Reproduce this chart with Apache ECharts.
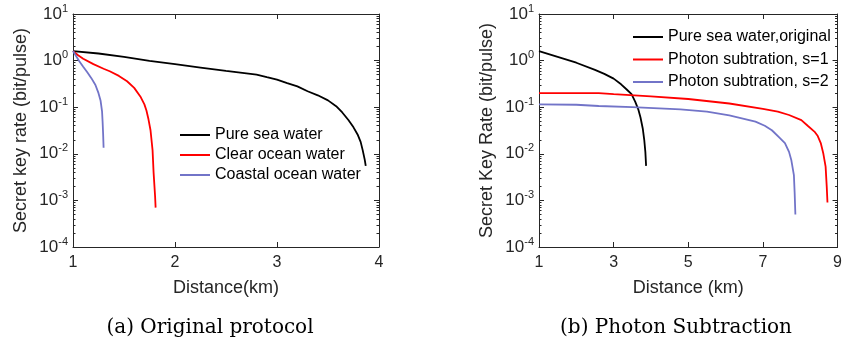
<!DOCTYPE html>
<html>
<head>
<meta charset="utf-8">
<script src="https://cdn.jsdelivr.net/npm/echarts@6/dist/echarts.min.js"></script>
<style>
  html, body { margin: 0; padding: 0; background: #fff; }
  #container { width: 845px; height: 342px; }
</style>
</head>
<body>
<div id="container"></div>
<script>
// (a) original protocol, [distance km, key rate]
var pureSea = [[1, 1.6], [1.25, 1.42], [1.5, 1.2], [1.75, 0.99], [2, 0.84], [2.25, 0.71], [2.5, 0.6],
    [2.8, 0.5], [2.9, 0.44], [3, 0.39], [3.1, 0.33], [3.2, 0.28], [3.3, 0.22], [3.4, 0.18], [3.5, 0.14],
    [3.58, 0.105], [3.64, 0.077], [3.7, 0.053], [3.75, 0.037], [3.79, 0.026], [3.82, 0.018],
    [3.84, 0.012], [3.86, 0.0075], [3.87, 0.0055]];
var clearOcean = [[1, 1.6], [1.05, 1.3], [1.1, 1.1], [1.2, 0.84], [1.3, 0.67], [1.36, 0.59], [1.45, 0.47],
    [1.53, 0.36], [1.6, 0.26], [1.66, 0.17], [1.7, 0.115], [1.72, 0.085], [1.74, 0.055], [1.76, 0.032],
    [1.78, 0.012], [1.79, 0.004], [1.805, 0.0012], [1.81, 0.0007]];
var coastalOcean = [[1, 1.6], [1.03, 1.25], [1.06, 0.98], [1.1, 0.74], [1.14, 0.56], [1.18, 0.42],
    [1.22, 0.3], [1.25, 0.2], [1.27, 0.14], [1.285, 0.08], [1.29, 0.05], [1.295, 0.028], [1.3, 0.0135]];

// (b) photon subtraction
var pureSeaOrig = [[1, 1.6], [1.5, 1.2], [2, 0.9], [2.5, 0.63], [2.75, 0.52], [3, 0.41], [3.2, 0.31],
    [3.35, 0.24], [3.48, 0.19], [3.58, 0.13], [3.66, 0.09], [3.72, 0.06], [3.78, 0.035], [3.82, 0.02],
    [3.85, 0.011], [3.87, 0.0055]];
var subS1 = [[1, 0.2], [2, 0.2], [2.6, 0.2], [3, 0.19], [4, 0.17], [5, 0.15], [6.1, 0.12], [7, 0.092],
    [7.4, 0.08], [7.7, 0.068], [8.03, 0.053], [8.2, 0.04], [8.38, 0.03], [8.47, 0.024], [8.55, 0.017],
    [8.62, 0.01], [8.68, 0.0053], [8.71, 0.002], [8.73, 0.0009]];
var subS2 = [[1, 0.115], [2, 0.113], [2.6, 0.106], [3.5, 0.1], [4.79, 0.09], [5.5, 0.08], [6.1, 0.067],
    [6.8, 0.049], [7.05, 0.04], [7.24, 0.032], [7.45, 0.022], [7.59, 0.017], [7.7, 0.011],
    [7.76, 0.0074], [7.83, 0.0035], [7.85, 0.0015], [7.87, 0.0005]];

var legendA = ['Pure sea water', 'Clear ocean water', 'Coastal ocean water'];
var legendB = ['Pure sea water,original', 'Photon subtration, s=1', 'Photon subtration, s=2'];
var ticksA = [1, 2, 3, 4];
var ticksB = [1, 3, 5, 7, 9];

var dark = '#262626';
var sans = 'Liberation Sans';
var blue = '#7274c8';

function logLabel(v) {
    var e = Math.round(Math.log(v) / Math.LN10);
    return '{b|10}{s|' + e + '}';
}

function makeY(idx, name, right) {
    return {
        type: 'log', gridIndex: idx, logBase: 10, min: 0.0001, max: 10,
        position: right ? 'right' : 'left',
        name: right ? '' : name, nameLocation: 'middle', nameGap: 43,
        nameTextStyle: { fontFamily: sans, fontSize: 18, color: dark },
        axisLine: { show: true, lineStyle: { color: dark } },
        axisTick: { inside: true, length: 5, lineStyle: { color: dark } },
        minorTick: { show: true, splitNumber: 9, length: 2.5, lineStyle: { color: dark } },
        splitLine: { show: false },
        axisLabel: {
            show: !right, margin: 5, color: dark, fontFamily: sans,
            formatter: logLabel,
            rich: {
                b: { fontSize: 17, fontFamily: sans, color: dark },
                s: { fontSize: 11, fontFamily: sans, color: dark, padding: [0, 0, 11, 0] }
            }
        }
    };
}

function makeX(idx, name, ticks, top) {
    return {
        type: 'value', gridIndex: idx, position: top ? 'top' : 'bottom',
        min: ticks[0], max: ticks[ticks.length - 1], interval: ticks[1] - ticks[0],
        name: top ? '' : name, nameLocation: 'middle', nameGap: 32,
        nameTextStyle: { fontFamily: sans, fontSize: 18, color: dark },
        axisLine: { show: true, onZero: false, lineStyle: { color: dark } },
        axisTick: { inside: true, length: 5, lineStyle: { color: dark } },
        splitLine: { show: false },
        axisLabel: { show: !top, margin: 8, fontSize: 16, fontFamily: sans, color: dark }
    };
}

function line(name, data, color, idx) {
    return {
        name: name, type: 'line', data: data,
        xAxisIndex: idx, yAxisIndex: idx,
        symbol: 'none', smooth: false, animation: false,
        lineStyle: { color: color, width: 1.8 }, itemStyle: { color: color }
    };
}

function legendItems(names) {
    return names.map(function (n) { return { name: n, icon: 'rect' }; });
}

var chart = echarts.init(document.getElementById('container'));
var option = {
    backgroundColor: '#fff',
    animation: false,
    title: [
        { text: '(a) Original protocol', left: 205, top: 313, textAlign: 'center',
          textStyle: { fontFamily: 'DejaVu Serif', fontSize: 20, fontWeight: 'normal', color: '#000' } },
        { text: '(b) Photon Subtraction', left: 671, top: 313, textAlign: 'center',
          textStyle: { fontFamily: 'DejaVu Serif', fontSize: 20, fontWeight: 'normal', color: '#000' } }
    ],
    grid: [
        { left: 73, right: 466, top: 14, bottom: 95 },
        { left: 539, right: 1, top: 14, bottom: 95 }
    ],
    legend: [
        { data: legendItems(legendA), orient: 'vertical', left: 175, top: 122, itemWidth: 30, itemHeight: 2,
          itemGap: 4, itemTextGap: 3, textStyle: { fontFamily: sans, fontSize: 16, lineHeight: 16, color: '#000' } },
        { data: legendItems(legendB), orient: 'vertical', left: 628, top: 24, itemWidth: 30, itemHeight: 2,
          itemGap: 6.5, itemTextGap: 3, textStyle: { fontFamily: sans, fontSize: 16, lineHeight: 16, color: '#000' } }
    ],
    xAxis: [makeX(0, 'Distance(km)', ticksA), makeX(1, 'Distance (km)', ticksB),
        makeX(0, '', ticksA, true), makeX(1, '', ticksB, true)],
    yAxis: [makeY(0, 'Secret key rate (bit/pulse)'), makeY(1, 'Secret Key Rate (bit/pulse)'),
        makeY(0, '', true), makeY(1, '', true)],
    series: [
        line(legendA[0], pureSea, '#000', 0),
        line(legendA[1], clearOcean, '#ff0000', 0),
        line(legendA[2], coastalOcean, blue, 0),
        line(legendB[0], pureSeaOrig, '#000', 1),
        line(legendB[1], subS1, '#ff0000', 1),
        line(legendB[2], subS2, blue, 1)
    ]
};
chart.setOption(option);
</script>
</body>
</html>
